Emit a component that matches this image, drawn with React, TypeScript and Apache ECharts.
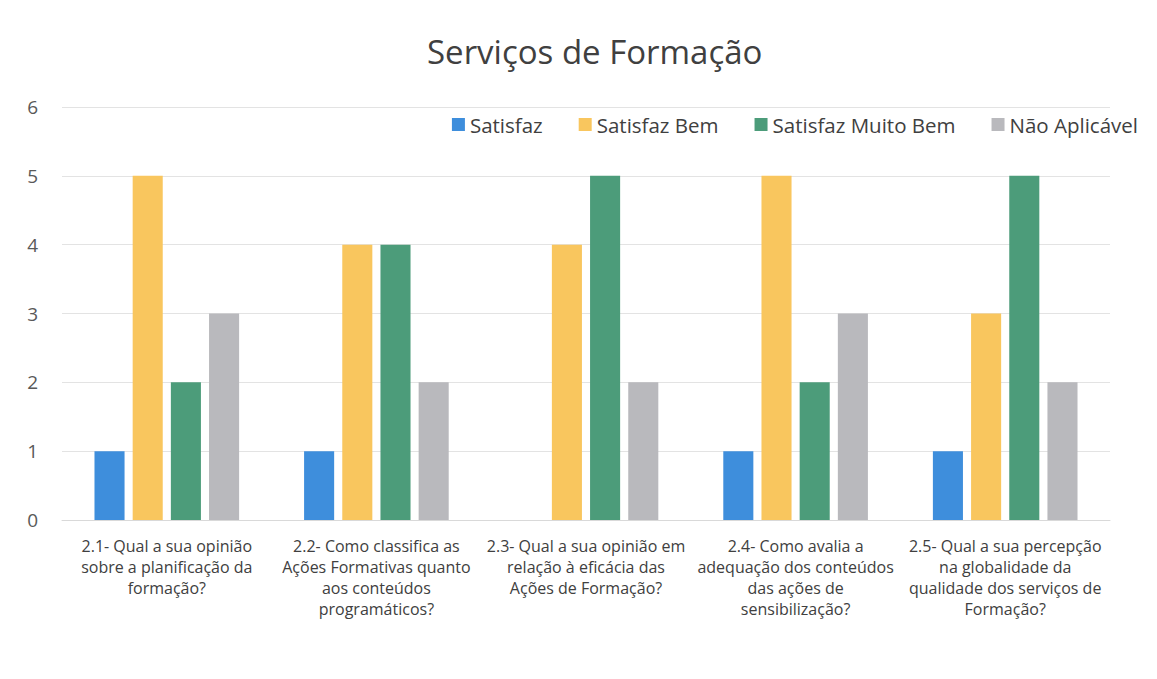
import React, { useEffect, useRef } from "react";
import * as echarts from "echarts";

const categories = [
  "2.1- Qual a sua opinião\nsobre a planificação da\nformação?",
  "2.2- Como classifica as\nAções Formativas quanto\naos conteúdos\nprogramáticos?",
  "2.3- Qual a sua opinião em\nrelação à eficácia das\nAções de Formação?",
  "2.4- Como avalia a\nadequação dos conteúdos\ndas ações de\nsensibilização?",
  "2.5- Qual a sua percepção\nna globalidade da\nqualidade dos serviços de\nFormação?",
];
const satisfaz = [1, 1, 0, 1, 1];
const satisfazBem = [5, 4, 4, 5, 3];
const satisfazMuitoBem = [2, 4, 5, 2, 5];
const naoAplicavel = [3, 2, 2, 3, 2];
const seriesNames = ["Satisfaz", "Satisfaz Bem", "Satisfaz Muito Bem", "Não Aplicável"];
const colors = ["#3E8EDC", "#F9C65E", "#4C9C7A", "#B9B9BD"];

export default function App() {
  const ref = useRef<HTMLDivElement>(null);
  useEffect(() => {
    if (!ref.current) return;
    const chart = echarts.init(ref.current, null, { renderer: "svg" });
    const font = "'Open Sans', 'Noto Sans', sans-serif";
    const data = [satisfaz, satisfazBem, satisfazMuitoBem, naoAplicavel];
    chart.setOption({
      animation: false,
      backgroundColor: "#ffffff",
      textStyle: { fontFamily: font },
      title: {
        text: "Serviços de Formação",
        left: 422,
        top: 30,
        textStyle: { fontSize: 33, fontWeight: "normal", color: "#404040", fontFamily: font },
      },
      legend: {
        right: 14,
        top: 109,
        itemWidth: 13,
        itemHeight: 13,
        itemGap: 36,
        icon: "rect",
        textStyle: { fontSize: 20.5, color: "#404040", fontFamily: font },
        data: seriesNames,
      },
      grid: { left: 62, right: 47, top: 107, bottom: 159, containLabel: false },
      xAxis: {
        type: "category",
        data: categories,
        axisLine: { show: true, lineStyle: { color: "#d9d9d9" } },
        axisTick: { show: false },
        axisLabel: {
          interval: 0,
          fontSize: 16,
          lineHeight: 21,
          color: "#404040",
          margin: 15,
          fontFamily: font,
        },
      },
      yAxis: {
        type: "value",
        min: 0,
        max: 6,
        interval: 1,
        axisLine: { show: false },
        axisTick: { show: false },
        splitLine: { lineStyle: { color: "#e3e3e3" } },
        axisLabel: { fontSize: 19, color: "#595959", margin: 24, fontFamily: font },
      },
      series: seriesNames.map((name, i) => ({
        name,
        type: "bar",
        data: data[i],
        itemStyle: { color: colors[i] },
        barGap: "27%",
        barCategoryGap: "31%",
      })),
    });
    return () => chart.dispose();
  }, []);
  return (
    <div
      ref={ref}
      style={{ position: "fixed", left: 0, top: 0, width: 1157, height: 679 }}
    />
  );
}
